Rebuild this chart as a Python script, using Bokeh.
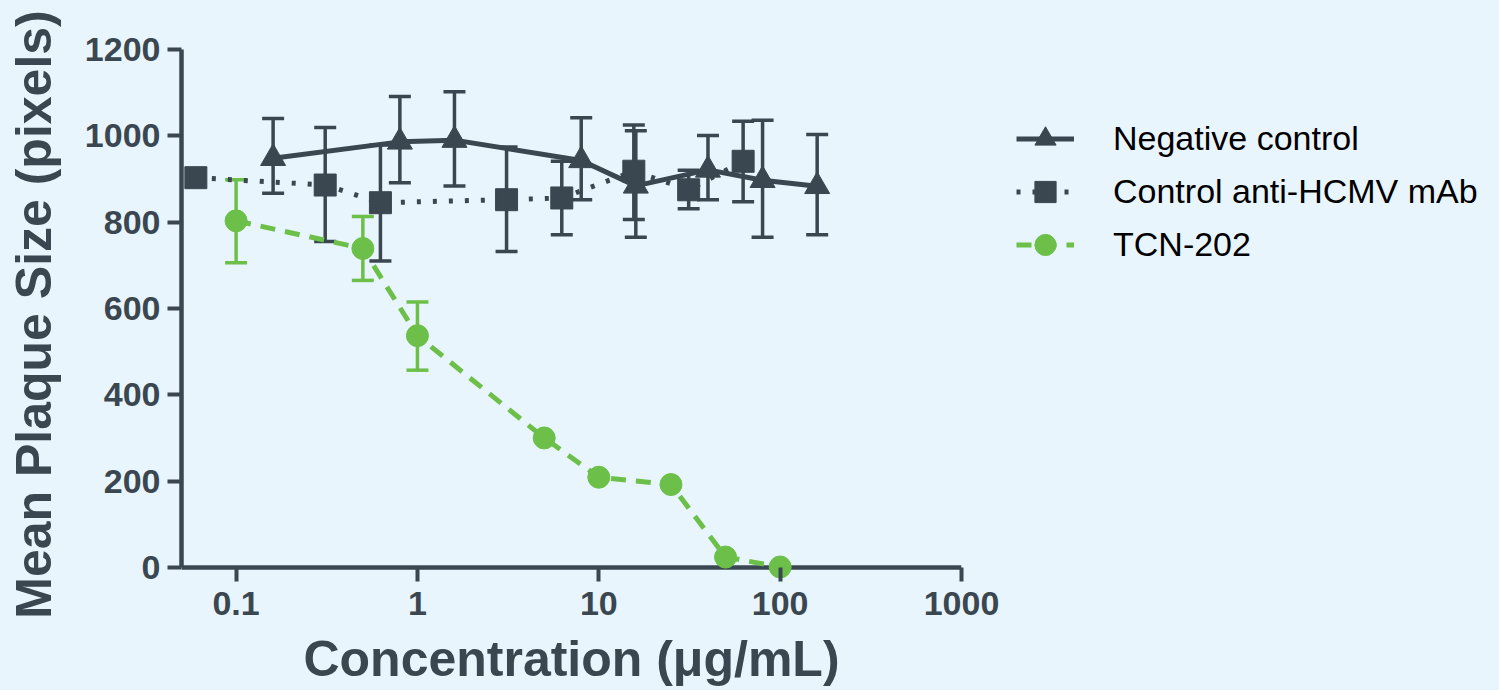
from bokeh.plotting import figure
from bokeh.models import (Range1d, FixedTicker, ColumnDataSource, Whisker, TeeHead,
                          Legend, LegendItem, Span)
from bokeh.embed import file_html
from bokeh.resources import INLINE

# ---- data ----
neg_x = [0.16, 0.8, 1.6, 8, 16, 40, 80, 160]
neg_y = [948, 986, 990, 943, 884, 921, 897, 883]
neg_hi = [1040, 1091, 1102, 1042, 1012, 1001, 1036, 1003]
neg_lo = [867, 891, 884, 852, 765, 852, 765, 771]

mab_x = [0.06, 0.31, 0.625, 3.1, 6.25, 15.6, 31.3, 62.5]
mab_y = [903, 886, 845, 852, 856, 918, 875, 941]
mab_hi = [903, 1019, 979, 974, 941, 1025, 920, 1034]
mab_lo = [903, 755, 710, 732, 771, 806, 831, 847]

tcn_x = [0.1, 0.5, 1, 5, 10, 25, 50, 100]
tcn_y = [803, 739, 537, 300, 209, 192, 24, 1]
tcn_hi = [898, 813, 615, 300, 209, 192, 24, 1]
tcn_lo = [706, 665, 457, 300, 209, 192, 24, 1]

series_names = ["Negative control", "Control anti-HCMV mAb", "TCN-202"]
x_ticks = [0.1, 1, 10, 100, 1000]
x_tick_labels = ["0.1", "1", "10", "100", "1000"]
y_ticks = [0, 200, 400, 600, 800, 1000, 1200]

DARK = "#3a4750"
GREEN = "#6cc04a"
BG = "#e9f5fd"
FONT = "Liberation Sans"

Y_PAD = -28  # room below zero so the markers at 0 are not clipped

p = figure(frame_width=780, frame_height=530, x_axis_type="log",
           x_range=Range1d(0.05, 1000), y_range=Range1d(Y_PAD, 1200),
           output_backend="svg", toolbar_location=None,
           min_border_left=181, min_border_top=49, min_border_right=536,
           min_border_bottom=111)
p.background_fill_color = BG
p.border_fill_color = BG
p.outline_line_color = None
p.xgrid.grid_line_color = None
p.ygrid.grid_line_color = None

# x axis line at y = 0
p.add_layout(Span(location=0, dimension="width", line_color=DARK,
                  line_width=4.5, level="underlay"))


def add_err(xs, hi, lo, color):
    idx = [i for i in range(len(xs)) if hi[i] != lo[i]]
    src = ColumnDataSource(dict(base=[xs[i] for i in idx],
                                upper=[hi[i] for i in idx],
                                lower=[lo[i] for i in idx]))
    w = Whisker(source=src, base="base", upper="upper", lower="lower",
                dimension="height", line_color=color, line_width=3.5,
                level="underlay",
                upper_head=TeeHead(size=22, line_color=color, line_width=3.5),
                lower_head=TeeHead(size=22, line_color=color, line_width=3.5))
    p.add_layout(w)


add_err(mab_x, mab_hi, mab_lo, DARK)
add_err(neg_x, neg_hi, neg_lo, DARK)
add_err(tcn_x, tcn_hi, tcn_lo, GREEN)

l2 = p.line(mab_x, mab_y, line_color=DARK, line_width=5, line_dash="4 12")
s2 = p.scatter(mab_x, mab_y, marker="square", size=22, fill_color=DARK, line_color=DARK)
l1 = p.line(neg_x, neg_y, line_color=DARK, line_width=5)
s1 = p.scatter(neg_x, neg_y, marker="triangle", size=25, fill_color=DARK, line_color=DARK)
l3 = p.line(tcn_x, tcn_y, line_color=GREEN, line_width=5, line_dash="15 10")
s3 = p.scatter(tcn_x, tcn_y, marker="circle", size=22, fill_color=GREEN, line_color=GREEN)

# axes
p.yaxis.bounds = (0, 1200)
p.xaxis.ticker = FixedTicker(ticks=x_ticks)
p.xaxis.major_label_overrides = {t: s for t, s in zip(x_ticks, x_tick_labels)}
p.yaxis.ticker = FixedTicker(ticks=y_ticks)
p.xaxis.axis_label = "Concentration (\u03bcg/mL)"
p.yaxis.axis_label = "Mean Plaque Size (pixels)"
for ax in (p.xaxis, p.yaxis):
    ax.axis_line_color = DARK
    ax.axis_line_width = 4.5
    ax.major_tick_line_color = DARK
    ax.major_tick_line_width = 4
    ax.major_tick_out = 14
    ax.major_tick_in = 0
    ax.minor_tick_line_color = None
    ax.major_label_text_font = FONT
    ax.major_label_text_font_size = "34px"
    ax.major_label_text_font_style = "bold"
    ax.major_label_text_color = DARK
    ax.major_label_standoff = 7
    ax.axis_label_text_font = FONT
    ax.axis_label_text_font_size = "50px"
    ax.axis_label_text_font_style = "bold"
    ax.axis_label_text_color = DARK
# x axis sits at the frame bottom (12px under zero): ticks reach up to the zero line
p.xaxis.axis_line_color = None
p.xaxis.major_tick_in = 12
p.xaxis.major_tick_out = 2
p.xaxis.major_label_standoff = 10
p.xaxis.axis_label_standoff = 13
p.yaxis.axis_label_standoff = 20

legend = Legend(items=[LegendItem(label=series_names[0], renderers=[l1, s1]),
                       LegendItem(label=series_names[1], renderers=[l2, s2]),
                       LegendItem(label=series_names[2], renderers=[l3, s3])],
                location=(55, 308), orientation="vertical",
                glyph_width=58, glyph_height=53, label_height=53, spacing=0,
                padding=0, margin=0, label_standoff=39,
                label_text_font=FONT, label_text_font_size="34px",
                label_text_color="black",
                background_fill_alpha=0, border_line_color=None)
p.add_layout(legend, "right")

html = file_html(p, INLINE, title="chart")
i = html.rfind("</head>")
if i >= 0:
    html = html[:i] + "<style>html,body{background:%s;overflow:hidden;}</style>" % BG + html[i:]
open("out.html", "w").write(html)
